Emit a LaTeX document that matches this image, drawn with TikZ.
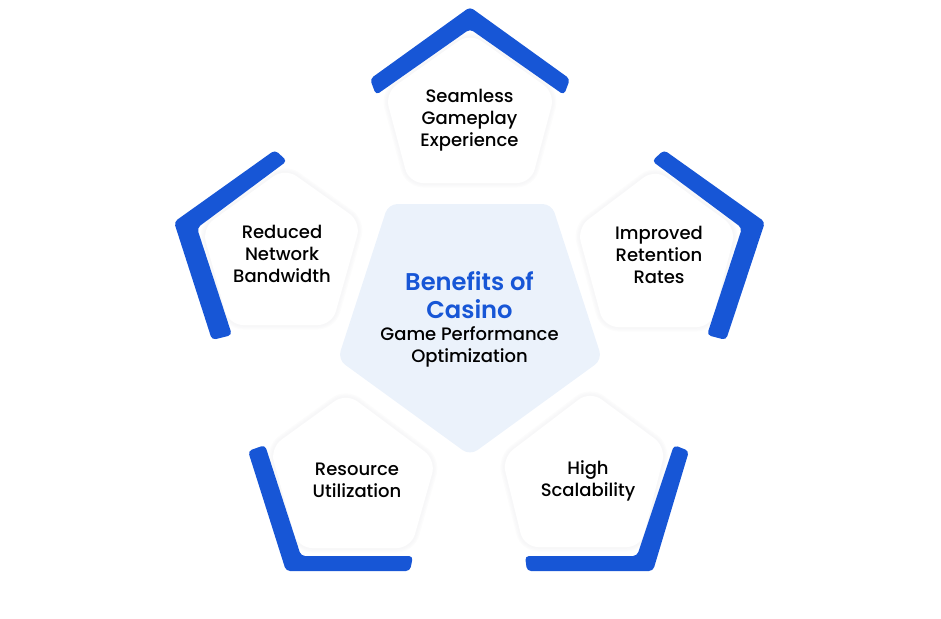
\documentclass[tikz,border=0pt]{standalone}
\usepackage{fontspec}
\setmainfont{Poppins Medium}[BoldFont=Poppins SemiBold]
\usetikzlibrary{shapes.geometric, positioning}
\definecolor{bandblue}{HTML}{1756D6}
\definecolor{corefill}{HTML}{EBF2FB}
\definecolor{haze}{HTML}{F7F7F8}
\newcommand{\bodysize}{\fontsize{18}{22}\selectfont}
\newcommand{\titlesize}{\fontsize{24.2}{22}\selectfont\bfseries\color{bandblue}}
\tikzset{
    band/.style={fill=bandblue, rounded corners=4pt},
    tile/.style={fill=white, rounded corners=14pt, preaction={draw=haze!40, line width=9pt},
        preaction={draw=haze!70, line width=6pt}, preaction={draw=haze, line width=3pt}},
    core/.style={regular polygon, regular polygon sides=5, shape border rotate=180, minimum size=278pt,
        inner sep=0pt, fill=corefill, rounded corners=9pt},
    caption/.style={align=center, font=\bodysize},
}
\begin{document}
\begin{tikzpicture}[x=1pt, y=-1pt]
    \useasboundingbox (0, 0) rectangle (941, 618);

    \node[core] (core) at (470, 316.5) {};
    \node[caption] (coretext) at (469.5, 319) {\titlesize Benefits of\\[6pt]\titlesize Casino\\Game Performance\\Optimization};

    \fill[tile] (470, 33) -- (555, 93) -- (531, 183) -- (409, 183) -- (385, 93) -- cycle;
    \fill[tile] (285, 168) -- (361, 222) -- (332, 325) -- (229, 325) -- (202, 228) -- cycle;
    \fill[tile] (655, 169) -- (736, 228) -- (711, 327) -- (604, 327) -- (577, 228) -- cycle;
    \fill[tile] (346, 393) -- (436, 460) -- (411, 548) -- (298, 548) -- (270, 448) -- cycle;
    \fill[tile] (590, 391) -- (666, 447) -- (641, 547) -- (524, 547) -- (502, 458) -- cycle;

    \fill[band] (470, 7) -- (570, 79) -- (564, 95) -- (470, 29) -- (376, 95) -- (370, 79) -- cycle;
    \fill[band] (287, 161) -- (275, 150) -- (174, 222) -- (212, 340) -- (232, 335) -- (197, 228) -- cycle;
    \fill[band] (652, 161) -- (664, 150) -- (765, 222) -- (726, 340) -- (707, 335) -- (742, 228) -- cycle;
    \fill[band] (248, 451) -- (265, 445) -- (301, 556) -- (413, 556) -- (410, 571) -- (286, 571) -- cycle;
    \fill[band] (689, 451) -- (674, 445) -- (637, 556) -- (525, 556) -- (527, 571) -- (653, 571) -- cycle;

    \node[caption] (seamless) at (469.5, 120) {Seamless\\Gameplay\\Experience};
    \node[caption] (reduced) at (282, 254) {Reduced\\Network\\Bandwidth};
    \node[caption] (improved) at (659, 255) {Improved\\Retention\\Rates};
    \node[caption] (resource) at (357, 480) {Resource\\Utilization};
    \node[caption] (high) at (588, 481) {High\\Scalability};
\end{tikzpicture}
\end{document}
